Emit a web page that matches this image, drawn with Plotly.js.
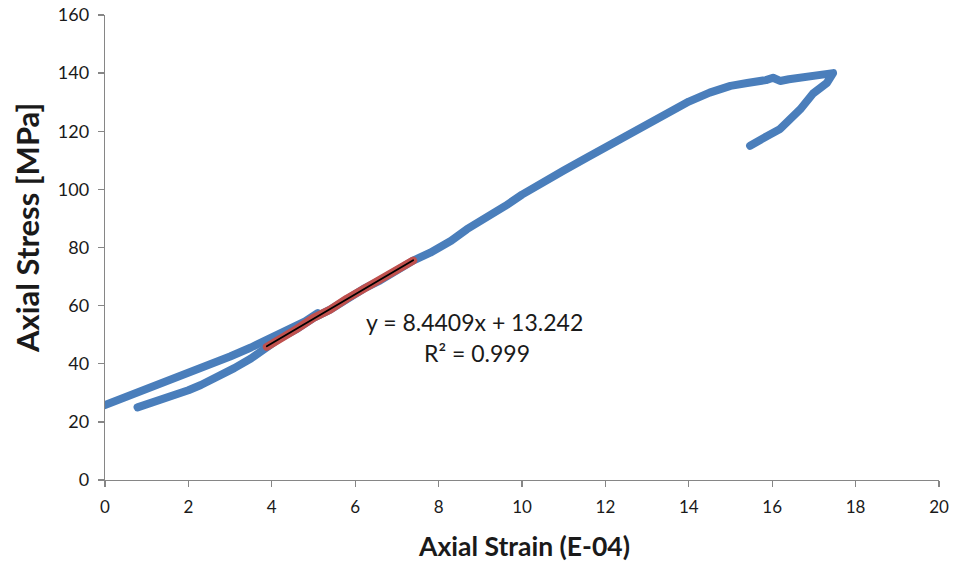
<!DOCTYPE html>
<html>
<head>
<meta charset="utf-8">
<script src="https://cdn.plot.ly/plotly-3.0.1.min.js"></script>
<style>
  html, body { margin: 0; padding: 0; background: #fff; }
  #chart { width: 957px; height: 564px; }
  /* rounded ends and joins for the thick stress-strain traces */
  .scatterlayer .js-line { stroke-linecap: round; stroke-linejoin: round; }
</style>
</head>
<body>
<div id="chart"></div>
<script>
// Initial loading branch (upper curve starting at the stress axis)
const loadStrain = [0.0, 0.5, 1.0, 1.5, 2.0, 2.5, 3.0, 3.5, 4.0, 4.5, 4.8, 5.1];
const loadStress = [25.8, 28.5, 31.0, 33.8, 36.5, 39.6, 42.5, 45.6, 48.8, 52.0, 54.6, 57.4];

// Reloading branch up to the start of the fitted range
const reloadStrain = [0.78, 1.2, 1.5, 2.0, 2.3, 2.7, 3.1, 3.5];
const reloadStress = [25.0, 26.8, 28.3, 30.9, 32.7, 35.4, 38.5, 41.8];

// Points used for the linear fit (red)
const fitStrain = [3.88, 4.2, 4.6, 5.0, 5.4, 5.8, 6.2, 6.6, 7.0, 7.39];
const fitStress = [45.8, 48.9, 52.0, 55.8, 58.6, 62.4, 65.8, 68.7, 72.5, 75.5];

// Remainder of the test: up to peak stress and the post-peak drop
const peakStrain = [7.8, 8.3, 8.68, 9.2, 9.6, 10.0, 10.43, 11.0, 11.56, 12.0, 12.66, 13.0,
  13.48, 14.0, 14.5, 15.0, 15.4, 15.63, 15.85, 16.02, 16.19, 16.4, 16.67, 17.07,
  17.3, 17.46, 17.31, 16.98, 16.67, 16.19, 15.87, 15.65, 15.47];
const peakStress = [78.2, 82.3, 86.3, 90.4, 94.3, 98.2, 102.0, 106.5, 111.0, 114.6, 119.9, 122.5,
  126.0, 130.2, 133.3, 135.6, 136.6, 137.0, 137.6, 138.4, 137.3, 137.9, 138.6, 139.4,
  139.7, 140.0, 136.6, 133.0, 127.5, 120.8, 118.3, 116.6, 115.0];

// Linear trendline over the fitted range
const slope = 8.4409;
const intercept = 13.242;
const rSquared = 0.999;

const mainStrain = reloadStrain.concat(fitStrain, peakStrain);
const mainStress = reloadStress.concat(fitStress, peakStress);
const trendX = [fitStrain[0], fitStrain[fitStrain.length - 1]];
const trendY = trendX.map(v => slope * v + intercept);

const blue = '#4A7EBB';
const red = '#C0504D';
const axisGrey = '#868686';
const font = 'Lato, "Open Sans", "Liberation Sans", sans-serif';

const traces = [
  { x: loadStrain, y: loadStress, mode: 'lines', line: { color: blue, width: 8 }, hoverinfo: 'skip' },
  { x: mainStrain, y: mainStress, mode: 'lines', line: { color: blue, width: 8 }, hoverinfo: 'skip' },
  { x: fitStrain, y: fitStress, mode: 'lines', line: { color: red, width: 8 }, hoverinfo: 'skip' },
  { x: trendX, y: trendY, mode: 'lines', line: { color: '#000000', width: 1.8 }, hoverinfo: 'skip' }
];

const layout = {
  width: 957,
  height: 564,
  margin: { l: 105, r: 18, t: 15, b: 84 },
  paper_bgcolor: '#ffffff',
  plot_bgcolor: '#ffffff',
  showlegend: false,
  font: { family: font, color: '#1a1a1a' },
  xaxis: {
    range: [0, 20], dtick: 2, tick0: 0,
    showgrid: false, zeroline: false,
    showline: true, linecolor: axisGrey, linewidth: 1.3,
    ticks: 'outside', ticklen: 6, tickcolor: axisGrey, tickwidth: 1.3,
    tickfont: { family: font, size: 17, color: '#1a1a1a' },
    ticklabelstandoff: 5
  },
  yaxis: {
    range: [0, 160], dtick: 20, tick0: 0,
    showgrid: false, zeroline: false,
    showline: true, linecolor: axisGrey, linewidth: 1.3,
    ticks: 'outside', ticklen: 6, tickcolor: axisGrey, tickwidth: 1.3,
    tickfont: { family: font, size: 18, color: '#1a1a1a' },
    ticklabelstandoff: 5
  },
  annotations: [
    { text: '<b>Axial Strain (E-04)</b>', xref: 'paper', yref: 'paper', x: 0.5024, y: -0.141,
      showarrow: false, xanchor: 'center', yanchor: 'middle',
      font: { family: font, size: 26.5, color: '#1a1a1a' } },
    { text: '<b>Axial Stress [MPa]</b>', xref: 'paper', yref: 'paper', x: -0.0935, y: 0.542,
      showarrow: false, xanchor: 'center', yanchor: 'middle', textangle: -90,
      font: { family: font, size: 31, color: '#1a1a1a' } },
    { text: 'y = ' + slope + 'x + ' + intercept, xref: 'paper', yref: 'paper', x: 0.4436, y: 0.3398,
      showarrow: false, xanchor: 'center', yanchor: 'middle',
      font: { family: font, size: 23, color: '#1a1a1a' } },
    { text: 'R² = ' + rSquared, xref: 'paper', yref: 'paper', x: 0.446, y: 0.273,
      showarrow: false, xanchor: 'center', yanchor: 'middle',
      font: { family: font, size: 23, color: '#1a1a1a' } }
  ]
};

Plotly.newPlot('chart', traces, layout, { staticPlot: true, displayModeBar: false });
</script>
</body>
</html>
